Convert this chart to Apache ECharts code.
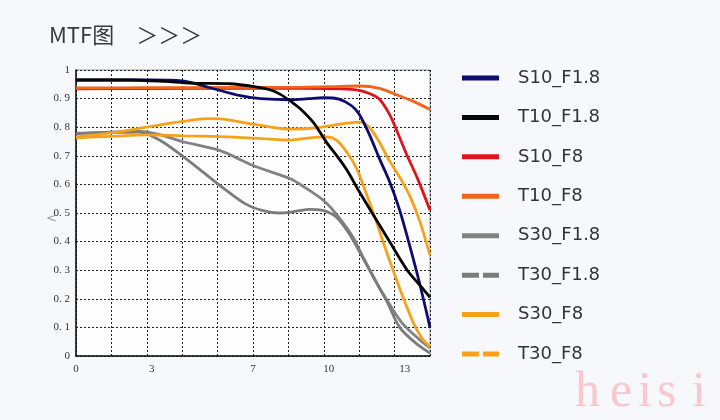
<!DOCTYPE html>
<html><head><meta charset="utf-8">
<script src="https://cdn.jsdelivr.net/npm/echarts@6/dist/echarts.min.js"></script>
<style>html,body{margin:0;padding:0;background:#f6f8fb}#c{width:720px;height:420px}</style>
</head><body><div id="c"></div>
<script>
// ---- data ----
const legendNames = ['S10_F1.8','T10_F1.8','S10_F8','T10_F8','S30_F1.8','T30_F1.8','S30_F8','T30_F8'];
const xTickLabels = [0, 3, 7, 10, 13];

const S10_F18 = [[0,0.965],[2.9,0.965],[4.2,0.962],[5.3,0.938],[6.5,0.91],[7.3,0.9],[8.5,0.896],[9.2,0.9],[9.8,0.903],[10.4,0.898],[10.9,0.875],[11.2,0.845],[11.6,0.775],[12.0,0.69],[12.4,0.61],[12.8,0.51],[13.2,0.385],[13.6,0.25],[14,0.1]];
const T10_F18 = [[0,0.965],[2.1,0.965],[3.5,0.96],[4.5,0.954],[6.1,0.952],[7.1,0.941],[7.7,0.93],[8.1,0.914],[8.5,0.89],[8.9,0.862],[9.4,0.815],[9.9,0.748],[10.4,0.69],[10.75,0.645],[11.2,0.575],[11.7,0.502],[12.4,0.4],[13.1,0.3],[13.7,0.237],[14,0.205]];
const S10_F8 = [[0,0.934],[3,0.935],[6,0.936],[9,0.936],[10.5,0.934],[11.2,0.929],[11.6,0.918],[12.0,0.898],[12.4,0.845],[12.7,0.785],[13.05,0.71],[13.5,0.622],[14,0.51]];
const T10_F8 = [[0,0.937],[3,0.938],[6,0.939],[9,0.94],[10.5,0.943],[11.2,0.944],[12.0,0.936],[12.8,0.909],[13.3,0.892],[14,0.862]];
const S30_F18 = [[0,0.778],[1.3,0.783],[2.5,0.785],[3.3,0.774],[4.2,0.75],[5.7,0.718],[7.0,0.666],[8.5,0.619],[8.9,0.598],[9.8,0.543],[10.4,0.485],[10.95,0.416],[11.35,0.346],[11.9,0.254],[12.3,0.195],[12.9,0.115],[13.6,0.056],[14,0.028]];
const T30_F18 = [[0,0.778],[1.3,0.782],[2.5,0.783],[3.3,0.755],[4.2,0.70],[5.0,0.645],[5.7,0.596],[6.7,0.532],[7.4,0.508],[8.0,0.5],[8.5,0.503],[9.2,0.513],[9.8,0.508],[10.3,0.485],[10.8,0.428],[11.3,0.35],[11.8,0.27],[12.3,0.19],[12.8,0.1],[13.45,0.044],[14,0.01]];
const S30_F8 = [[0,0.766],[1.4,0.78],[2.8,0.8],[4.2,0.82],[5.2,0.83],[5.7,0.829],[7.0,0.811],[8.5,0.793],[9.6,0.799],[10.7,0.814],[11.25,0.818],[11.6,0.8],[11.95,0.755],[12.35,0.69],[12.8,0.625],[13.2,0.56],[13.6,0.47],[14,0.352]];
const T30_F8 = [[0,0.763],[1.4,0.768],[2.8,0.773],[4.2,0.77],[5.7,0.767],[7.0,0.762],[8.5,0.755],[9.2,0.762],[9.9,0.766],[10.3,0.755],[10.7,0.714],[11.1,0.655],[11.45,0.575],[11.8,0.49],[12.2,0.385],[12.6,0.285],[13.0,0.19],[13.4,0.105],[13.7,0.06],[14,0.032]];

const seriesData = {
  'S10_F1.8': S10_F18, 'T10_F1.8': T10_F18, 'S10_F8': S10_F8, 'T10_F8': T10_F8,
  'S30_F1.8': S30_F18, 'T30_F1.8': T30_F18, 'S30_F8': S30_F8, 'T30_F8': T30_F8
};
const colors = {
  'S10_F1.8': '#0d0d6e', 'T10_F1.8': '#050505', 'S10_F8': '#e0141c', 'T10_F8': '#f0641e',
  'S30_F1.8': '#828282', 'T30_F1.8': '#7c7c7c', 'S30_F8': '#f5a21a', 'T30_F8': '#f5a21a'
};
const dashedLegend = ['T30_F1.8','T30_F8'];
const drawOrder = ['S30_F1.8','T30_F1.8','S30_F8','T30_F8','S10_F8','T10_F8','S10_F1.8','T10_F1.8'];

const chart = echarts.init(document.getElementById('c'), null, {renderer:'canvas'});
const serif = 'Liberation Serif, DejaVu Serif, serif';
const dashIcon = 'path://M0,0h17v5h-17zM21,0h16v5h-16z';
const wm = '#f7c8cd';

const option = {
  backgroundColor: '#f6f8fb',
  animation: false,
  title: {
    text: 'MTF图　＞＞＞', left: 44, top: 19,
    textStyle: {fontFamily: 'Noto Sans CJK SC', fontSize: 22, fontWeight: 'normal', color: '#3a3a3a'}
  },
  grid: {left: 76, right: 290, top: 70, bottom: 64, show: true, backgroundColor: '#fdfdfd', borderColor: '#9a9a9a', borderWidth: 1},
  legend: {
    orient: 'vertical', left: 462, top: 69, padding: 0,
    itemWidth: 37, itemHeight: 5, itemGap: 21.43,
    textStyle: {fontFamily: 'DejaVu Sans', fontSize: 18, color: '#333', padding: [0,0,0,14]},
    data: legendNames.map(n => ({name: n, icon: dashedLegend.includes(n) ? dashIcon : 'rect'}))
  },
  xAxis: [{
    type: 'value', min: 0, max: 14, interval: 1.4, position: 'bottom',
    axisLine: {show: true, onZero: false, lineStyle: {color: '#111', width: 1.5}},
    axisTick: {show: false}, axisLabel: {show: false},
    splitLine: {show: true, lineStyle: {color: '#222', type: [2, 2], width: 1}}
  }, {
    type: 'value', min: 0, max: 14, interval: 1, position: 'bottom', offset: 0,
    axisLine: {show: false}, axisTick: {show: false}, splitLine: {show: false},
    axisLabel: {fontFamily: serif, fontSize: 11, color: '#333', margin: 8,
      formatter: v => xTickLabels.includes(Math.round(v)) && Math.abs(v - Math.round(v)) < 1e-6 ? String(Math.round(v)) : ''}
  }],
  yAxis: {
    type: 'value', min: 0, max: 1, interval: 0.1,
    axisLine: {show: true, lineStyle: {color: '#111', width: 1.5}},
    axisTick: {show: false},
    splitLine: {show: true, lineStyle: {color: '#222', type: [2, 2], width: 1}},
    axisLabel: {fontFamily: serif, fontSize: 11, color: '#333', margin: 6,
      formatter: v => v === 0 ? '0' : (v >= 0.999 ? '1' : '0. ' + Math.round(v * 10))}
  },
  graphic: [
    {type: 'text', left: 46, top: 212, style: {text: '<', fontSize: 13, fill: '#9a9a9a', fontFamily: 'DejaVu Sans'}},
    {type: 'text', x: 575, y: 418, style: {text: 'h', font: '50px Liberation Serif', fill: wm, verticalAlign: 'bottom'}},
    {type: 'text', x: 610, y: 418, style: {text: 'e', font: '50px Liberation Serif', fill: wm, verticalAlign: 'bottom'}},
    {type: 'text', x: 638, y: 418, style: {text: 'i', font: '50px Liberation Serif', fill: wm, verticalAlign: 'bottom'}},
    {type: 'text', x: 657, y: 418, style: {text: 's', font: '50px Liberation Serif', fill: wm, verticalAlign: 'bottom'}},
    {type: 'text', x: 692, y: 418, style: {text: 'i', font: '50px Liberation Serif', fill: wm, verticalAlign: 'bottom'}}
  ],
  series: drawOrder.map(n => ({
    name: n, type: 'line', xAxisIndex: 0, symbol: 'none', smooth: 0.3,
    color: colors[n],
    lineStyle: {width: 2.8, color: colors[n]},
    data: seriesData[n]
  }))
};
chart.setOption(option);
</script>
</body></html>
